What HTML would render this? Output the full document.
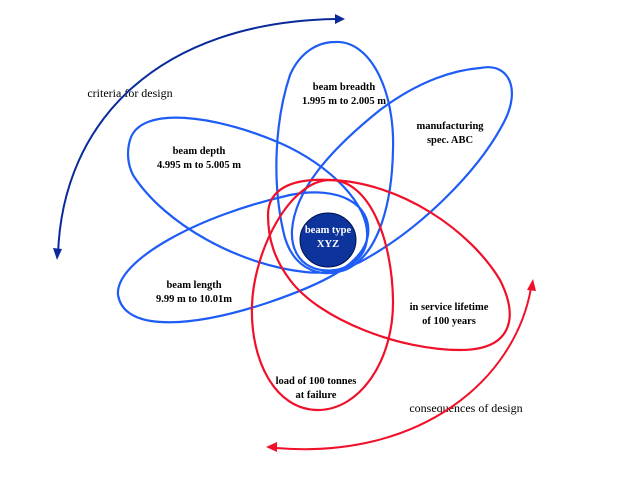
<!DOCTYPE html>
<html><head><style>body{margin:0;background:#fff}svg{display:block}text{font-family:"Liberation Serif",serif;font-size:10.5px;font-weight:bold;text-anchor:middle}</style></head>
<body>
<svg width="640" height="480" viewBox="0 0 640 480">
<g fill="none" stroke="#1e5cf5" stroke-width="2.2">
<path d="M130,140 C140,105 215,115 280,143 C330,165 370,205 367,238 C365,268 330,275 305,272 C240,265 165,225 133,175 C127,163 127,150 130,140 Z"/>
<path d="M118,295 C115,260 200,215 290,195 C340,185 372,205 368,235 C364,265 320,285 267,303 C200,325 125,335 118,295 Z"/>
<path d="M335,42 C370,40 395,90 393,150 C392,200 380,255 345,270 C315,280 290,265 283,230 C272,180 275,120 290,75 C300,52 318,42 335,42 Z"/>
<path d="M480,68 C510,62 520,90 505,120 C480,170 420,230 360,262 C320,282 290,265 292,230 C295,190 330,150 380,110 C420,80 455,70 480,68 Z"/>
</g>
<g fill="none" stroke="#f0102a" stroke-width="2.2">
<path d="M330,180 C370,180 392,240 393,300 C394,360 360,410 318,410 C275,410 250,360 252,305 C254,250 290,180 330,180 Z"/>
<path d="M268,215 C268,190 290,178 330,180 C400,182 470,230 500,280 C520,320 510,350 460,350 C400,350 320,320 290,280 C275,260 268,240 268,215 Z"/>
</g>
<ellipse cx="328" cy="240" rx="28" ry="27" fill="#0c349c" stroke="#001050" stroke-width="1"/>
<text x="328" y="233" fill="#fff">beam type</text>
<text x="328" y="247" fill="#fff">XYZ</text>
<text x="344" y="90">beam breadth</text>
<text x="344" y="104">1.995 m to 2.005 m</text>
<text x="199" y="154">beam depth</text>
<text x="199" y="168">4.995 m to 5.005 m</text>
<text x="450" y="129">manufacturing</text>
<text x="450" y="143">spec. ABC</text>
<text x="194" y="288">beam length</text>
<text x="194" y="302">9.99 m to 10.01m</text>
<text x="449" y="310">in service lifetime</text>
<text x="449" y="324">of 100 years</text>
<text x="316" y="384">load of 100 tonnes</text>
<text x="316" y="398">at failure</text>
<text x="130" y="97" style="font-size:12px;font-weight:normal">criteria for design</text>
<text x="466" y="412" style="font-size:12px;font-weight:normal">consequences of design</text>
<path d="M58,255 C62,120 160,22 336,19" fill="none" stroke="#0a2a9c" stroke-width="2"/>
<polygon points="345,19 335,14 335,24" fill="#0a2a9c"/>
<polygon points="57,260 53,248 62,249" fill="#0a2a9c"/>
<path d="M276,448 C420,460 515,380 531,288" fill="none" stroke="#f0102a" stroke-width="2"/>
<polygon points="533,279 527,290 536,291" fill="#f0102a"/>
<polygon points="266,447 277,442 277,452" fill="#f0102a"/>
</svg>
</body></html>
